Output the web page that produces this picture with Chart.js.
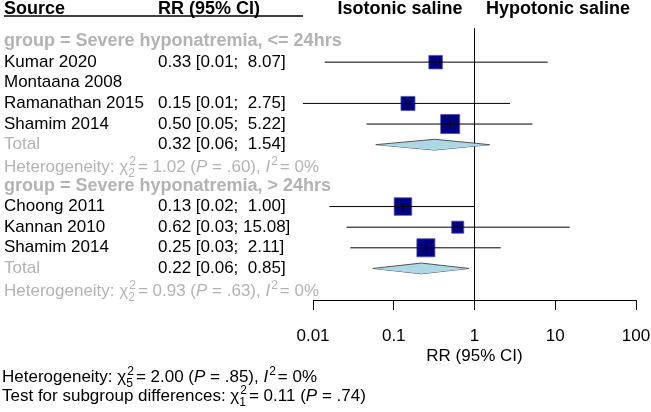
<!DOCTYPE html>
<html>
<head>
<meta charset="utf-8">
<script src="https://cdn.jsdelivr.net/npm/chart.js@4/dist/chart.umd.min.js"></script>
<style>
  html, body { margin: 0; padding: 0; background: #fff; }
  #wrap { width: 651px; height: 412px; }
</style>
</head>
<body>
<div id="wrap"><canvas id="forest"></canvas></div>
<script>
// studies, in plot order
const studies = ['Kumar 2020', 'Montaana 2008', 'Ramanathan 2015', 'Shamim 2014', 'Choong 2011', 'Kannan 2010', 'Shamim 2014'];
const studyGroup = [0, 0, 0, 0, 1, 1, 1];
const rr = [0.33, null, 0.15, 0.50, 0.13, 0.62, 0.25];
const rrLow = [0.014, null, 0.0075, 0.046, 0.016, 0.026, 0.029];
const rrHigh = [8.07, null, 2.75, 5.22, 1.00, 15.08, 2.11];
const rrText = ['0.33 [0.01;  8.07]', '', '0.15 [0.01;  2.75]', '0.50 [0.05;  5.22]', '0.13 [0.02;  1.00]', '0.62 [0.03; 15.08]', '0.25 [0.03;  2.11]'];

// subgroups
const groups = ['group = Severe hyponatremia, <= 24hrs', 'group = Severe hyponatremia, > 24hrs'];
const totalRR = [0.32, 0.22];
const totalLow = [0.06, 0.055];
const totalHigh = [1.54, 0.85];
const totalText = ['0.32 [0.06;  1.54]', '0.22 [0.06;  0.85]'];
const hetDf = ['2', '2'];
const hetChi = ['1.02', '0.93'];
const hetP = ['.60', '.63'];

const tickValues = [0.01, 0.1, 1, 10, 100];
const tickLabels = ['0.01', '0.1', '1', '10', '100'];

// drawing styles
const boxSide = [13.5, 0, 14, 19, 17.5, 12, 18];
const FONT = '"Liberation Sans", Arial, sans-serif';
const GREY = '#b3b3b3';
const NAVY = '#000080';

// row layout: header, then per group: title, studies, total, heterogeneity
const studyRow = [];
const groupRow = [];
const totalRow = [];
const hetRow = [];
let r = 1;
groups.forEach((g, gi) => {
  groupRow.push(r++);
  studies.forEach((s, i) => { if (studyGroup[i] === gi) studyRow[i] = r++; });
  totalRow.push(r++);
  hetRow.push(r++);
});
const axisRow = 13.53;
const diamondH = 0.26;

const datasets = [];
// reference line at RR = 1
datasets.push({
  data: [{ x: 1, y: 0.37 }, { x: 1, y: axisRow }],
  borderColor: '#000', borderWidth: 1, pointRadius: 0, showLine: true, order: 5
});
// confidence intervals
studies.forEach((s, i) => {
  if (rr[i] === null) return;
  datasets.push({
    data: [{ x: rrLow[i], y: studyRow[i] }, { x: rrHigh[i], y: studyRow[i] }],
    borderColor: '#000', borderWidth: 1, pointRadius: 0, showLine: true, clip: false, order: 2
  });
});
// study boxes
datasets.push({
  data: studies.map((s, i) => ({ x: rr[i], y: studyRow[i] })).filter(p => p.x !== null),
  pointStyle: 'rect',
  pointRadius: boxSide.filter((b, i) => rr[i] !== null).map(b => b / Math.SQRT2),
  backgroundColor: NAVY, borderColor: '#4b4bb0', borderWidth: 0.8, showLine: false, order: 3
});
// small vertical tick at each estimate
datasets.push({
  data: studies.map((s, i) => ({ x: rr[i], y: studyRow[i] })).filter(p => p.x !== null),
  pointStyle: 'line', rotation: 90, pointRadius: 3.5,
  borderColor: '#000', borderWidth: 1, showLine: false, order: 1
});
// pooled diamonds: upper half filled down to lower half
groups.forEach((g, gi) => {
  const y = totalRow[gi];
  datasets.push({
    data: [{ x: totalLow[gi], y: y }, { x: totalRR[gi], y: y - diamondH }, { x: totalHigh[gi], y: y }],
    borderColor: '#555', borderWidth: 1, backgroundColor: '#add8e6',
    pointRadius: 0, showLine: true, fill: '+1', tension: 0, order: 4
  });
  datasets.push({
    data: [{ x: totalLow[gi], y: y }, { x: totalRR[gi], y: y + diamondH }, { x: totalHigh[gi], y: y }],
    borderColor: '#555', borderWidth: 1,
    pointRadius: 0, showLine: true, fill: false, tension: 0, order: 4
  });
});

// text drawing helper with sub/superscripts
function drawRich(ctx, x, y, parts, size, color) {
  ctx.save();
  ctx.fillStyle = color;
  ctx.textBaseline = 'alphabetic';
  ctx.textAlign = 'left';
  const small = Math.round(size * 0.7);
  parts.forEach(p => {
    if (p.sup !== undefined || p.sub !== undefined) {
      ctx.font = small + 'px ' + FONT;
      let w = 0;
      if (p.sup !== undefined) { ctx.fillText(p.sup, x + 1, y - size * 0.42); w = ctx.measureText(p.sup).width; }
      if (p.sub !== undefined) { ctx.fillText(p.sub, x, y + size * 0.3); w = Math.max(w, ctx.measureText(p.sub).width); }
      x += w + 3;
    } else {
      ctx.font = (p.i ? 'italic ' : '') + size + 'px ' + FONT;
      ctx.fillText(p.t, x, y);
      x += ctx.measureText(p.t).width;
    }
  });
  ctx.restore();
}
function hetParts(df, chi, p) {
  return [
    { t: 'Heterogeneity: ' }, { t: 'χ' }, { sup: '2', sub: df },
    { t: '= ' + chi + ' (' }, { t: 'P', i: true }, { t: ' = ' + p + '), ' },
    { t: 'I', i: true }, { sup: '2' }, { t: '= 0%' }
  ];
}

const textPlugin = {
  id: 'forestText',
  afterDraw(chart) {
    const ctx = chart.ctx;
    const ys = chart.scales.y;
    const row = v => ys.getPixelForValue(v);
    ctx.save();
    // header
    ctx.fillStyle = '#000';
    ctx.textBaseline = 'alphabetic';
    ctx.font = 'bold 18px ' + FONT;
    ctx.textAlign = 'left';
    ctx.fillText('Source', 4, 13.5);
    ctx.fillText('RR (95% CI)', 158, 13.5);
    ctx.textAlign = 'center';
    ctx.fillText('Isotonic saline', 400, 13.5);
    ctx.fillText('Hypotonic saline', 558, 13.5);
    ctx.strokeStyle = '#000';
    ctx.lineWidth = 1.6;
    ctx.beginPath(); ctx.moveTo(4, 16); ctx.lineTo(303, 16); ctx.stroke();

    ctx.textAlign = 'left';
    ctx.textBaseline = 'middle';
    groups.forEach((g, gi) => {
      ctx.font = 'bold 18px ' + FONT;
      ctx.fillStyle = GREY;
      ctx.fillText(g, 4, row(groupRow[gi]));
      ctx.font = '17px ' + FONT;
      ctx.fillText('Total', 4, row(totalRow[gi]));
      ctx.fillStyle = '#000';
      ctx.fillText(totalText[gi], 158, row(totalRow[gi]));
      drawRich(ctx, 4, row(hetRow[gi]) + 7, hetParts(hetDf[gi], hetChi[gi], hetP[gi]), 17, GREY);
    });
    ctx.font = '17px ' + FONT;
    ctx.fillStyle = '#000';
    ctx.textBaseline = 'middle';
    studies.forEach((s, i) => {
      ctx.fillText(s, 4, row(studyRow[i]));
      ctx.fillText(rrText[i], 158, row(studyRow[i]));
    });
    // overall results
    drawRich(ctx, 2, 382, hetParts('5', '2.00', '.85'), 17, '#000');
    drawRich(ctx, 2, 401, [
      { t: 'Test for subgroup differences: ' }, { t: 'χ' }, { sup: '2', sub: '1' },
      { t: '= 0.11 (' }, { t: 'P', i: true }, { t: ' = .74)' }
    ], 17, '#000');
    ctx.restore();
  }
};

new Chart(document.getElementById('forest'), {
  type: 'scatter',
  data: { datasets: datasets },
  options: {
    responsive: true,
    maintainAspectRatio: false,
    animation: false,
    layout: { padding: { left: 313, right: 15, top: 0, bottom: 45 } },
    plugins: { legend: { display: false }, tooltip: { enabled: false } },
    scales: {
      x: {
        type: 'logarithmic',
        min: 0.01,
        max: 100,
        afterBuildTicks: scale => { scale.ticks = tickValues.map(v => ({ value: v })); },
        afterFit: scale => { scale.height = 67; scale.paddingLeft = 0; scale.paddingRight = 0; },
        ticks: {
          autoSkip: false,
          maxRotation: 0,
          padding: 16,
          color: '#000',
          font: { family: FONT, size: 17 },
          callback: (v, i) => tickLabels[i]
        },
        grid: { drawOnChartArea: false, drawTicks: true, tickLength: 10, color: '#000' },
        border: { display: true, color: '#000', width: 1 },
        title: { display: true, text: 'RR (95% CI)', color: '#000', font: { family: FONT, size: 17 }, padding: 0 }
      },
      y: {
        type: 'linear',
        reverse: true,
        min: -0.323,
        max: axisRow,
        display: false
      }
    }
  },
  plugins: [textPlugin]
});
</script>
</body>
</html>
